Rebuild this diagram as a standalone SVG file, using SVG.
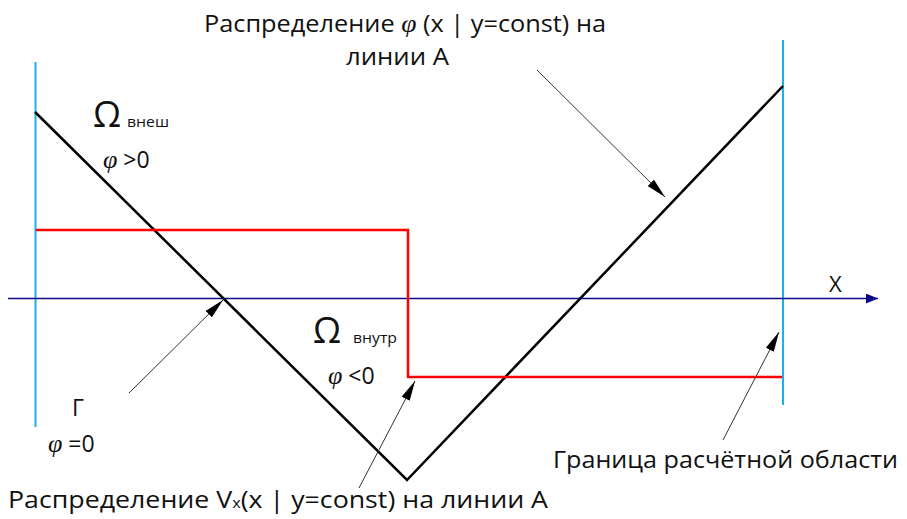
<svg xmlns="http://www.w3.org/2000/svg" width="907" height="519" viewBox="0 0 907 519">
<style>
.t{font-family:"Open Sans","Liberation Sans",Arial,sans-serif;fill:#111}
.phi{font-family:"Liberation Serif","DejaVu Serif",serif;font-style:italic}
.bnd{stroke:#1ab0e8;stroke-width:2;fill:none}
.lead{stroke:#333;stroke-width:1;fill:none}
</style>
<defs>
<marker id="ah" viewBox="0 0 20 9" refX="20" refY="4.5" markerWidth="20" markerHeight="9" markerUnits="userSpaceOnUse" orient="auto">
<path d="M0,0 L20,4.5 L0,9 Z" fill="#000"/>
</marker>
<marker id="ax" viewBox="0 0 12 10" refX="12" refY="5" markerWidth="12" markerHeight="10" markerUnits="userSpaceOnUse" orient="auto">
<path d="M0,0 L12,5 L0,10 Z" fill="#0a0a8a"/>
</marker>
</defs>
<g id="boundaries">
<line class="bnd" x1="35.5" y1="62" x2="35.5" y2="427"/>
<line class="bnd" x1="783" y1="40" x2="783" y2="405"/>
</g>
<g id="axis">
<line x1="8" y1="298.5" x2="878" y2="298.5" stroke="#0a0a8a" stroke-width="1.5" marker-end="url(#ax)"/>
<text class="t" x="829" y="292" font-size="22">X</text>
</g>
<g id="phi-curve">
<polyline points="35,112 407,480 783,86" fill="none" stroke="#000" stroke-width="2.5"/>
</g>
<g id="vx-curve">
<polyline points="36,230 408,230 408,377 782,377" fill="none" stroke="#f00" stroke-width="2.5"/>
</g>
<g id="omega-ext">
<text class="t" x="93" y="127" font-size="36" textLength="28" lengthAdjust="spacingAndGlyphs">Ω</text>
<text class="t" x="127" y="127" font-size="15" textLength="42" lengthAdjust="spacingAndGlyphs">внеш</text>
<text class="t" x="103" y="168" font-size="23"><tspan class="phi" font-size="26">φ</tspan> &gt;0</text>
</g>
<g id="omega-int">
<text class="t" x="313" y="343" font-size="36" textLength="28" lengthAdjust="spacingAndGlyphs">Ω</text>
<text class="t" x="353" y="343" font-size="15" textLength="44" lengthAdjust="spacingAndGlyphs">внутр</text>
<text class="t" x="328" y="384" font-size="23"><tspan class="phi" font-size="26">φ</tspan> &lt;0</text>
</g>
<g id="gamma">
<text class="t" x="72" y="416" font-size="23">Г</text>
<text class="t" x="48" y="452" font-size="23"><tspan class="phi" font-size="26">φ</tspan> =0</text>
</g>
<g id="label-phi">
<text class="t" x="204" y="32" font-size="23" textLength="402" lengthAdjust="spacingAndGlyphs">Распределение <tspan class="phi" font-size="25">φ</tspan> (x | y=const) на</text>
<text class="t" x="346" y="65" font-size="23" textLength="103" lengthAdjust="spacingAndGlyphs">линии А</text>
</g>
<g id="label-vx">
<text class="t" x="8" y="508" font-size="23" textLength="540" lengthAdjust="spacingAndGlyphs">Распределение V<tspan font-size="14">x</tspan>(x | y=const) на линии А</text>
</g>
<g id="label-border">
<text class="t" x="553" y="468" font-size="23" textLength="345" lengthAdjust="spacingAndGlyphs">Граница расчётной области</text>
</g>
<g id="connectors">
<line class="lead" x1="537" y1="70" x2="665" y2="197" marker-end="url(#ah)"/>
<line class="lead" x1="129" y1="393" x2="223" y2="300" marker-end="url(#ah)"/>
<line class="lead" x1="359" y1="488" x2="415" y2="381" marker-end="url(#ah)"/>
<line class="lead" x1="723" y1="440" x2="779" y2="332" marker-end="url(#ah)"/>
</g>
</svg>
